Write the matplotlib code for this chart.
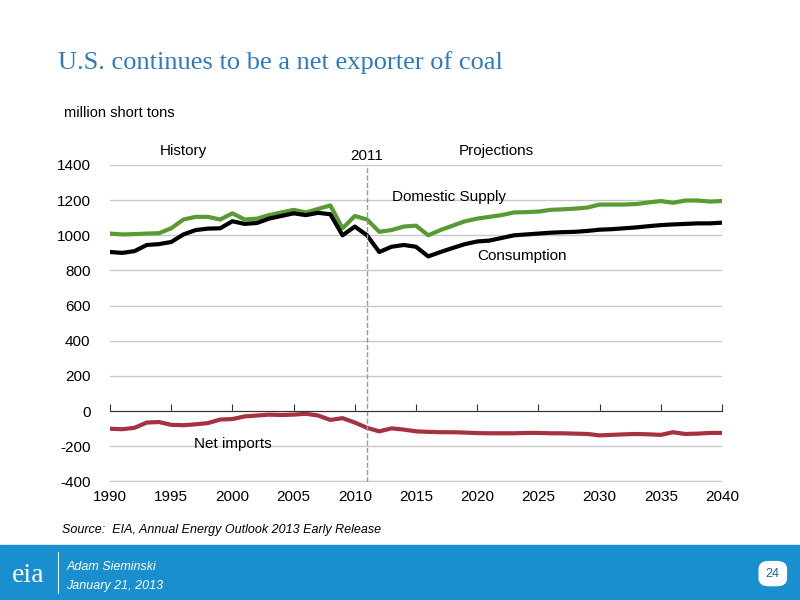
import matplotlib.pyplot as plt
from matplotlib.patches import Rectangle, FancyBboxPatch

plt.rcParams['axes.unicode_minus'] = False

years = list(range(1990, 2041))
supply = [1010, 1005, 1007, 1010, 1012, 1040, 1090, 1105, 1105, 1090,
          1125, 1090, 1095, 1115, 1130, 1145, 1130, 1150, 1170, 1040,
          1110, 1090, 1020, 1030, 1050, 1055, 1000, 1030, 1055, 1080,
          1095, 1105, 1115, 1130, 1132, 1135, 1145, 1148, 1152, 1158,
          1175, 1175, 1175, 1178, 1187, 1195, 1185, 1198, 1198, 1192, 1195]
consumption = [905, 900, 910, 945, 950, 962, 1005, 1030, 1038, 1040,
               1080, 1065, 1070, 1095, 1110, 1125, 1115, 1128, 1120, 1000,
               1050, 1000, 905, 935, 945, 935, 880, 905, 928, 950,
               965, 970, 985, 1000, 1005, 1010, 1015, 1018, 1020, 1025,
               1032, 1035, 1040, 1045, 1052, 1058, 1062, 1065, 1068, 1068, 1072]
net_imports = [-100, -103, -95, -65, -62, -78, -80, -75, -68, -48,
               -45, -30, -25, -20, -22, -20, -15, -25, -50, -40,
               -65, -95, -115, -98, -105, -115, -118, -120, -120, -122,
               -125, -126, -126, -126, -124, -124, -126, -126, -128, -130,
               -138, -135, -132, -130, -132, -135, -120, -130, -128, -124, -124]
xticks = list(range(1990, 2041, 5))
yticks = list(range(-400, 1401, 200))

fig = plt.figure(figsize=(8, 6), dpi=100)
fig.text(0.072, 0.885, 'U.S. continues to be a net exporter of coal', fontsize=19,
         family='Liberation Serif', color='#2B7BC0')
fig.text(0.08, 0.805, 'million short tons', fontsize=10.5, family='Liberation Sans')

ax = fig.add_axes([0.1375, 0.197, 0.765, 0.528])
ax.plot(years, supply, color='#5A9A32', lw=3)
ax.plot(years, consumption, color='black', lw=3)
ax.plot(years, net_imports, color='#A6313F', lw=3)
ax.set_xlim(1990, 2040)
ax.set_ylim(-402, 1400)
ax.set_yticks(yticks)
ax.grid(axis='y', color='#c8c8c8', lw=1)
ax.set_axisbelow(True)
for s in ['top', 'right', 'left']:
    ax.spines[s].set_visible(False)
ax.spines['bottom'].set_position(('data', 0))
ax.spines['bottom'].set_color('#333333')
ax.set_xticks(xticks)
ax.tick_params(axis='x', labelbottom=False, direction='in', length=5, color='#333333')
ax.tick_params(axis='y', length=0, labelsize=11, pad=14)
sec = ax.secondary_xaxis('bottom')
sec.set_xticks(xticks)
sec.tick_params(length=0, labelsize=11, pad=6)
sec.spines['bottom'].set_visible(False)
for lab in ax.get_yticklabels() + sec.get_xticklabels():
    lab.set_family('Liberation Sans')

ax.axvline(2011, color='#999999', ls='--', lw=1)
tk = dict(fontsize=11, family='Liberation Sans')
ax.text(1996, 1455, 'History', ha='center', **tk)
ax.text(2011, 1430, '2011', ha='center', **tk)
ax.text(2021.6, 1455, 'Projections', ha='center', **tk)
ax.text(2013, 1195, 'Domestic Supply', **tk)
ax.text(2020, 860, 'Consumption', **tk)
ax.text(2000, -210, 'Net imports', ha='center', **tk)

fig.text(0.078, 0.112, 'Source:  EIA, Annual Energy Outlook 2013 Early Release',
         fontsize=9, style='italic', family='Liberation Sans')

fig.patches.append(Rectangle((0, 0), 1, 0.092, transform=fig.transFigure,
                             color='#1A8FD0', zorder=0))
fig.text(0.015, 0.03, 'eia', fontsize=20, color='white', family='Liberation Serif')
fig.lines.append(plt.Line2D([0.072, 0.072], [0.012, 0.08], transform=fig.transFigure,
                            color='white', lw=0.8))
fig.text(0.083, 0.05, 'Adam Sieminski', fontsize=9, style='italic', color='white',
         family='Liberation Sans')
fig.text(0.083, 0.018, 'January 21, 2013', fontsize=9, style='italic', color='white',
         family='Liberation Sans')
fig.patches.append(FancyBboxPatch((0.952, 0.027), 0.028, 0.034, transform=fig.transFigure,
                                  boxstyle='round,pad=0.003,rounding_size=0.012',
                                  color='white'))
fig.text(0.966, 0.044, '24', fontsize=9, ha='center', va='center', color='#1A5F9A',
         family='Liberation Sans')

fig.savefig('out.png', dpi=100)
